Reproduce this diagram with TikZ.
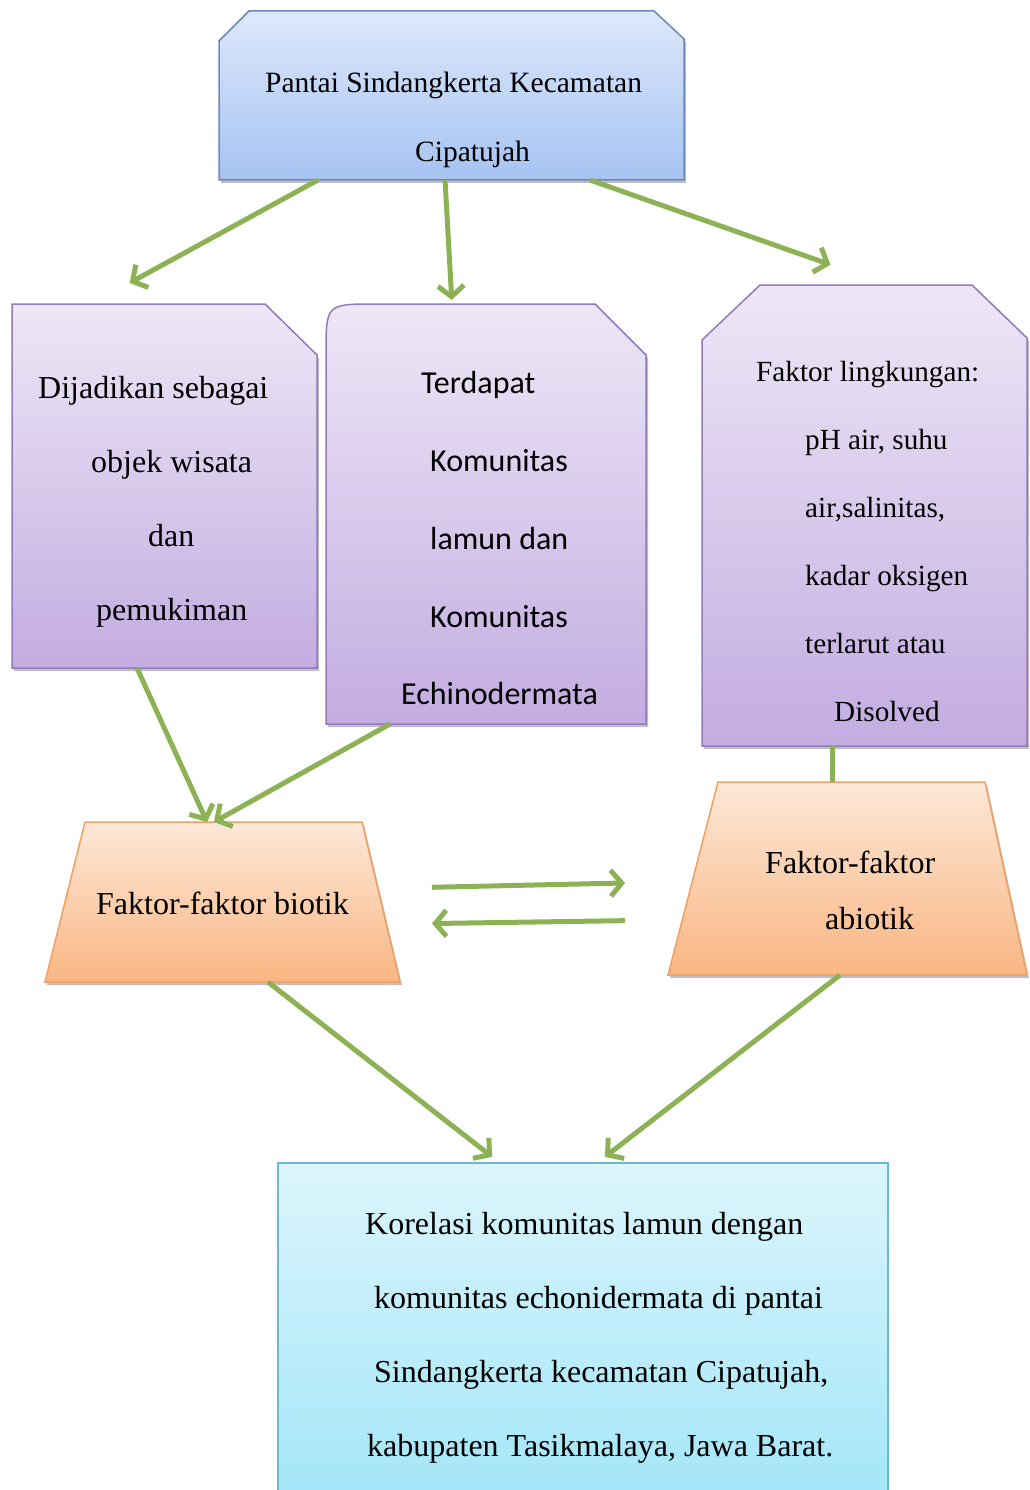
\documentclass[tikz,border=0pt]{standalone}
\usepackage{fontspec}
\setmainfont{Liberation Serif}
\newfontfamily\carlito{Carlito}
\usetikzlibrary{arrows.meta,shadows}

\definecolor{hijau}{HTML}{8DB255}
\definecolor{biruAtas}{HTML}{DDE8FB}
\definecolor{biruBawah}{HTML}{A6C3F2}
\definecolor{biruGaris}{HTML}{6E87B5}
\definecolor{unguAtas}{HTML}{EDE7F6}
\definecolor{unguBawah}{HTML}{C3ACE1}
\definecolor{unguGaris}{HTML}{9179BA}
\definecolor{jinggaAtas}{HTML}{FDE8D8}
\definecolor{jinggaBawah}{HTML}{F9B683}
\definecolor{jinggaGaris}{HTML}{F0A060}
\definecolor{sianAtas}{HTML}{DCF5FC}
\definecolor{sianBawah}{HTML}{A4E6F8}
\definecolor{sianGaris}{HTML}{6BBAD0}

\begin{document}
\begin{tikzpicture}[x=1pt,y=-1pt,
	box/.style 2 args={inner sep=0pt, outer sep=0pt, minimum width=#1, minimum height=#2},
	bayang/.style={drop shadow={shadow xshift=2pt, shadow yshift=-3pt, opacity=.25, fill=black}},
	biru/.style={bayang, draw=biruGaris, line width=1.5pt, top color=biruAtas, bottom color=biruBawah},
	ungu/.style={bayang, draw=unguGaris, line width=1.5pt, top color=unguAtas, bottom color=unguBawah},
	jingga/.style={bayang, draw=jinggaGaris, line width=1.5pt, top color=jinggaAtas, bottom color=jinggaBawah},
	sian/.style={draw=sianGaris, line width=1.5pt, top color=sianAtas, bottom color=sianBawah},
	teks/.style={anchor=west, align=left, inner sep=0pt},
	link/.style={draw=hijau, line width=5pt, -{Straight Barb[length=11pt,width=26pt]}}]
	\useasboundingbox (0,0) rectangle (1029,1490);
	\clip (0,0) rectangle (1029,1490);

	\node[box={465pt}{169pt}] (pantai) at (451.5,95.5) {};
	\node[box={305pt}{364pt}] (wisata) at (164.5,486) {};
	\node[box={320pt}{420pt}] (komunitas) at (486,514) {};
	\node[box={325pt}{461pt}] (lingkungan) at (864.5,515.5) {};
	\node[box={355pt}{160pt}] (biotik) at (222.5,902) {};
	\node[box={359pt}{193pt}] (abiotik) at (847.5,878.5) {};
	\node[box={610pt}{331pt}] (korelasi) at (583,1328.5) {};

	\path[biru] ([yshift=-30pt]pantai.north west) -- ([xshift=30pt]pantai.north west) -- ([xshift=-30pt]pantai.north east)
		-- ([yshift=-28pt]pantai.north east) -- (pantai.south east) -- (pantai.south west) -- cycle;
	\path[ungu] (wisata.north west) -- ([xshift=-52pt]wisata.north east) -- ([yshift=-51pt]wisata.north east)
		-- (wisata.south east) -- (wisata.south west) -- cycle;
	\path[ungu] ([yshift=-50pt]komunitas.north west) .. controls (komunitas.north west) .. ([xshift=50pt]komunitas.north west)
		-- ([xshift=-51pt]komunitas.north east) -- ([yshift=-51pt]komunitas.north east)
		-- (komunitas.south east) -- (komunitas.south west) -- cycle;
	\path[ungu] ([yshift=-55pt]lingkungan.north west) -- ([xshift=58pt]lingkungan.north west) -- ([xshift=-55pt]lingkungan.north east)
		-- ([yshift=-53pt]lingkungan.north east) -- (lingkungan.south east) -- (lingkungan.south west) -- cycle;
	\path[jingga] ([xshift=40pt]biotik.north west) -- ([xshift=-38pt]biotik.north east) -- (biotik.south east) -- (biotik.south west) -- cycle;
	\path[jingga] ([xshift=50pt]abiotik.north west) -- ([xshift=-42pt]abiotik.north east) -- (abiotik.south east) -- (abiotik.south west) -- cycle;
	\path[sian] (korelasi.north west) rectangle (korelasi.south east);

	\node[teks, font={\fontsize{29.5}{69}\selectfont}] (pantaiT) at (265,119.5)
		{Pantai Sindangkerta Kecamatan\\\hspace*{150pt}Cipatujah};
	\node[teks, font={\fontsize{32}{74}\selectfont}] (wisataT) at (38,502)
		{Dijadikan sebagai\\\hspace*{53pt}objek wisata\\\hspace*{110pt}dan\\\hspace*{58pt}pemukiman};
	\node[teks, font={\carlito\fontsize{32}{77.75}\selectfont}] (komunitasT) at (401,538.5)
		{\hspace*{20pt}Terdapat\\\hspace*{29pt}Komunitas\\\hspace*{29pt}lamun dan\\\hspace*{29pt}Komunitas\\Echinodermata};
	\node[teks, font={\fontsize{29.2}{68}\selectfont}] (lingkunganT) at (756,542)
		{Faktor lingkungan:\\\hspace*{49pt}pH air, suhu\\\hspace*{49pt}air,salinitas,\\\hspace*{49pt}kadar oksigen\\\hspace*{49pt}terlarut atau\\\hspace*{78pt}Disolved};
	\node[teks, font={\fontsize{32}{40}\selectfont}] (biotikT) at (96,903) {Faktor-faktor biotik};
	\node[teks, font={\fontsize{32}{56}\selectfont}] (abiotikT) at (765,890)
		{Faktor-faktor\\\hspace*{60pt}abiotik};
	\node[teks, font={\fontsize{32}{74}\selectfont}] (korelasiT) at (365,1338)
		{Korelasi komunitas lamun dengan\\\hspace*{9pt}komunitas echonidermata di pantai\\\hspace*{9pt}Sindangkerta kecamatan Cipatujah,\\\hspace*{2pt}kabupaten Tasikmalaya, Jawa Barat.};

	\draw[link, shorten >=44pt] (pantai.south -| 318,0) -- (wisata.north -| 91,0);
	\draw[link, shorten >=4pt] (pantai.south -| 445,0) -- (komunitas.north -| 452,0);
	\draw[link, shorten >=61pt] (pantai.south -| 590,0) -- (lingkungan.north -| 888,0);
	\draw[link] (wisata.south -| 137,0) -- (biotik.north -| 207,0);
	\draw[link] (komunitas.south -| 390,0) -- (biotik.north -| 214,0);
	\draw[draw=hijau, line width=5pt] (lingkungan.south -| 832,0) -- (abiotik.north -| 832,0);
	\draw[link, shorten <=32pt, shorten >=43pt] (biotik.east |- 0,888) -- (abiotik.west |- 0,882);
	\draw[link, shorten <=43pt, shorten >=32pt] (abiotik.west |- 0,920) -- (biotik.east |- 0,924);
	\draw[link, shorten >=10pt] (biotik.south -| 268,0) -- (korelasi.north -| 500,0);
	\draw[link, shorten >=10pt] (abiotik.south -| 840,0) -- (korelasi.north -| 597,0);
\end{tikzpicture}
\end{document}
